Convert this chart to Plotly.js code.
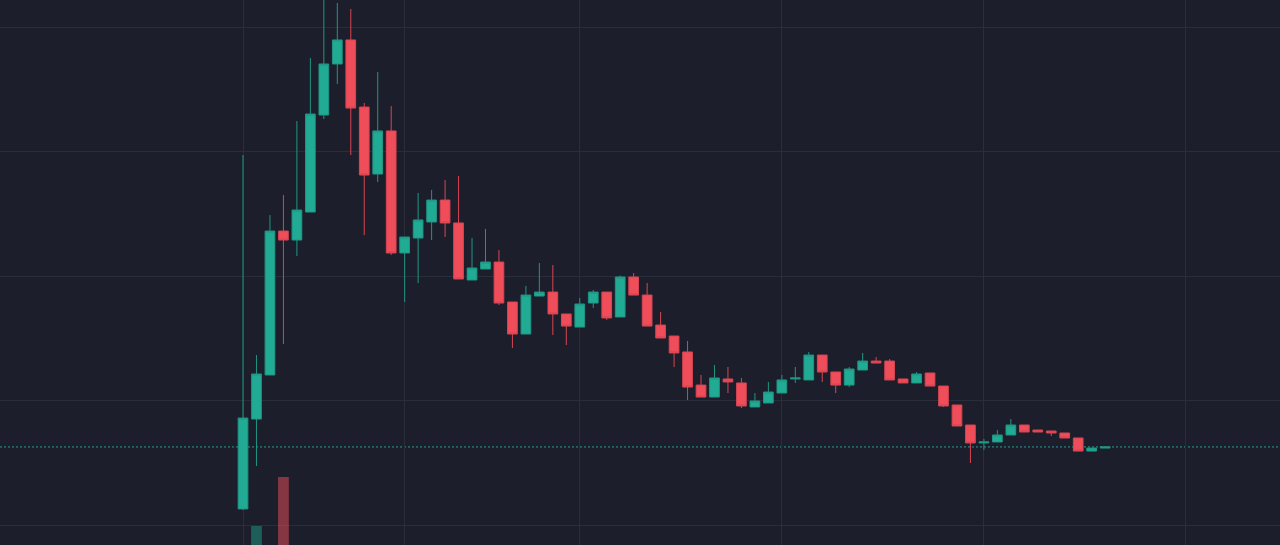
<!DOCTYPE html>
<html>
<head>
<meta charset="utf-8">
<script src="https://cdn.plot.ly/plotly-3.0.1.min.js"></script>
<style>
html,body{margin:0;padding:0;background:#1c1f2b;}
#chart{width:1280px;height:545px;}
</style>
</head>
<body>
<div id="chart"></div>
<script>
// Candle index (time buckets)
const idx = Array.from({length: 65}, (_, i) => i);

const openP  = [11.29,18.51,22.05,33.61,32.89,35.14,42.93,47.03,48.96,43.57,38.19,41.65,31.85,33.05,34.34,36.10,34.26,29.68,30.56,31.12,27.91,25.34,28.39,28.71,26.95,25.90,27.83,28.71,26.71,29.92,28.47,26.06,25.18,23.90,21.24,20.28,21.73,21.41,19.48,19.80,20.60,21.73,21.65,23.65,22.29,21.24,22.45,23.17,23.17,21.73,21.41,22.21,21.16,19.64,18.03,16.59,16.67,17.23,18.03,17.63,17.55,17.39,16.99,15.94,16.18];
const highP  = [39.72,23.65,34.90,36.51,42.45,47.51,52.97,51.93,51.45,43.90,46.39,43.65,33.13,36.67,36.91,37.71,38.03,33.05,33.78,32.09,27.91,29.20,31.04,30.88,26.95,28.23,28.88,28.71,30.04,30.24,29.44,27.11,25.18,24.78,22.05,22.85,22.69,21.81,20.60,21.49,22.05,22.69,23.90,23.65,22.29,22.69,23.82,23.49,23.33,21.73,22.29,22.21,21.16,19.64,18.03,16.91,17.63,18.51,18.03,17.63,17.55,17.39,16.99,16.18,16.27];
const lowP   = [11.20,14.74,22.05,24.54,31.61,35.14,42.61,45.42,39.72,33.29,37.55,31.69,27.91,29.44,32.89,33.13,29.76,29.68,30.56,27.67,24.22,25.34,28.39,25.26,24.46,25.90,27.43,26.47,26.71,28.47,25.98,25.02,22.69,20.04,20.28,20.28,20.60,19.40,19.48,19.80,20.60,21.41,21.65,21.49,20.60,21.08,22.45,23.01,21.65,21.41,21.41,21.16,19.48,17.95,14.98,16.02,16.67,17.23,17.47,17.47,17.15,16.99,15.94,15.94,16.18];
const closeP = [18.59,22.13,33.61,32.89,35.30,43.01,47.03,48.96,43.49,38.11,41.65,31.85,33.13,34.50,36.10,34.26,29.76,30.64,31.12,27.83,25.34,28.47,28.71,26.95,25.98,27.75,28.71,26.63,29.92,28.47,25.98,25.02,23.82,21.08,20.28,21.81,21.49,19.56,19.96,20.68,21.65,21.81,23.65,22.29,21.24,22.53,23.17,23.01,21.65,21.41,22.13,21.16,19.56,17.95,16.59,16.67,17.23,18.03,17.47,17.47,17.39,16.99,15.94,16.18,16.27];
const volume = [42,53.5,47,62.5,38,44,40,30,35,28,22,30,18,15,12,14,16,10,9,12,11,9,8,10,7,8,6,7,9,8,9,7,6,10,7,6,5,6,5,5,4,4,6,5,4,4,4,3,4,3,3,3,5,6,8,4,3,4,3,2,2,2,3,2,1];

// vertical grid positions (time boundaries) and price grid levels
const timeGrid = [0, 12, 25, 40, 55, 70];
const priceGrid = [10, 20, 30, 40, 50];

const UP = '#22ab94', DOWN = '#ef4d5a';
const UPW = '#1f9683', DOWNW = '#d84552';

const volColors = idx.map(i => closeP[i] >= openP[i] ? 'rgba(34,171,148,0.45)' : 'rgba(239,77,90,0.5)');

const traces = [
  {
    type: 'candlestick',
    x: idx, open: openP, high: highP, low: lowP, close: closeP,
    increasing: {line: {color: UPW, width: 1}, fillcolor: UP},
    decreasing: {line: {color: DOWNW, width: 1}, fillcolor: DOWN},
    whiskerwidth: 0,
    hoverinfo: 'none',
    showlegend: false
  },
  {
    type: 'bar',
    x: idx, y: volume, yaxis: 'y2',
    marker: {color: volColors, line: {width: 0}},
    hoverinfo: 'none',
    showlegend: false
  }
];

const lastClose = closeP[closeP.length - 1];

const layout = {
  width: 1280, height: 545,
  margin: {l: 0, r: 0, t: 0, b: 0, pad: 0},
  paper_bgcolor: '#1c1f2b',
  plot_bgcolor: '#1c1f2b',
  boxgap: 0.28,
  boxgroupgap: 0,
  bargap: 0.2,
  showlegend: false,
  xaxis: {
    range: [-18.04, 76.98],
    tickmode: 'array', tickvals: timeGrid,
    showticklabels: false, ticks: '',
    showgrid: true, gridcolor: '#2a2e3a', gridwidth: 1,
    zeroline: false, showline: false,
    rangeslider: {visible: false},
    fixedrange: true
  },
  yaxis: {
    range: [8.394, 52.169],
    tickmode: 'array', tickvals: priceGrid,
    showticklabels: false, ticks: '',
    showgrid: true, gridcolor: '#2a2e3a', gridwidth: 1,
    zeroline: false, showline: false,
    fixedrange: true
  },
  yaxis2: {
    overlaying: 'y',
    range: [50, 150],
    visible: false,
    showgrid: false, zeroline: false,
    fixedrange: true
  },
  shapes: [
    {
      type: 'line', xref: 'paper', x0: 0, x1: 1,
      yref: 'y', y0: lastClose, y1: lastClose,
      line: {color: '#2a9d8f', width: 1, dash: '2px,2px'},
      layer: 'below'
    }
  ]
};

Plotly.newPlot('chart', traces, layout, {displayModeBar: false, staticPlot: true});
</script>
</body>
</html>
